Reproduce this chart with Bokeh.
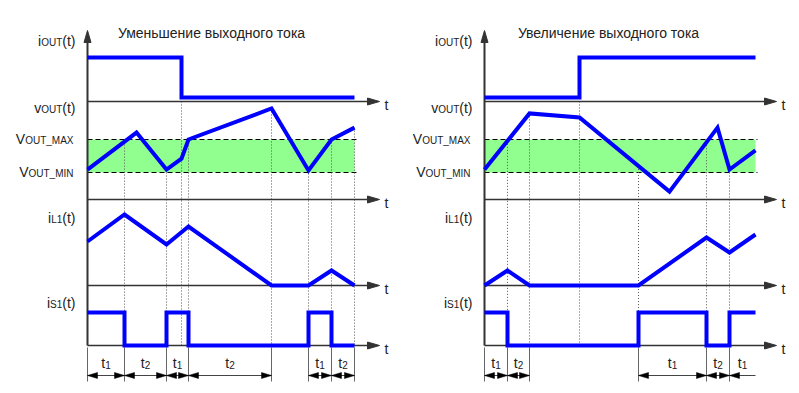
import numpy as np
from bokeh.plotting import figure
from bokeh.models import Range1d
from bokeh.core.properties import value
from bokeh.embed import file_html
from bokeh.resources import INLINE

# ---------------- data ----------------
# time in arbitrary units, levels normalised per signal
L_title = "Уменьшение выходного тока"
L_step_t = 9.4
L_iout = [1, 0]                      # load current before / after step
L_bounds = [0, 3.7, 7.9, 10.1, 18.4, 22.1, 24.4, 26.7]
L_phase = ["1", "2", "1", "2", "", "1", "2"]
L_vout_t = [0, 4.9, 7.9, 9.4, 10.1, 18.4, 22.1, 24.4, 26.7]
L_vout = [0.09, 1.21, 0.09, 0.42, 1.0, 1.94, 0.06, 1.0, 1.36]   # 0 = VOUT_MIN, 1 = VOUT_MAX
L_il1_t = [0, 3.7, 7.9, 10.1, 18.4, 22.1, 24.4, 26.7]
L_il1 = [4.4, 7.1, 4.1, 5.9, 0, 0, 1.5, 0]
L_open_end = False

R_title = "Увеличение выходного тока"
R_step_t = 9.5
R_iout = [0, 1]
R_bounds = [0, 2.3, 4.5, 15.4, 22.2, 24.5, 27.1]
R_phase = ["1", "2", "", "1", "2", "1"]
R_vout_t = [0, 4.5, 9.5, 18.5, 23.3, 24.5, 27.1]
R_vout = [0.09, 1.79, 1.67, -0.58, 1.36, 0.09, 0.67]
R_il1_t = [0, 2.3, 4.5, 15.4, 22.2, 24.5, 27.1]
R_il1 = [0, 1.5, 0, 0, 4.8, 3.3, 5.1]
R_open_end = True

SIG_LABELS = [("i", "OUT", "(t)"), ("v", "OUT", "(t)"), ("V", "OUT_MAX", ""),
              ("V", "OUT_MIN", ""), ("i", "L1", "(t)"), ("i", "S1", "(t)")]

# ---------------- layout ----------------
BLUE = "#0000ff"
GREEN = "#90ff90"
AXC = "#333333"
FONT = "Liberation Sans"
PX_T = 10.0
AX_Y = [101, 199, 285, 345]
V_TOP = 30
Y_IOUT0, IOUT_SPAN = 97, 40
Y_VMIN, Y_VMAX = 172, 139
S1_SPAN = 33
IL1_PX = 10
DIM_Y = 375

panels = [
    dict(x0=87, title=L_title, step=L_step_t, iout=L_iout, bounds=L_bounds, phase=L_phase,
         vt=L_vout_t, v=L_vout, it=L_il1_t, i=L_il1, open_end=L_open_end),
    dict(x0=484, title=R_title, step=R_step_t, iout=R_iout, bounds=R_bounds, phase=R_phase,
         vt=R_vout_t, v=R_vout, it=R_il1_t, i=R_il1, open_end=R_open_end),
]

p = figure(width=799, height=393, x_range=Range1d(0, 799), y_range=Range1d(393, 0),
           x_axis_type=None, y_axis_type=None, toolbar_location=None,
           output_backend="svg", min_border=0)
p.outline_line_color = None
p.background_fill_color = "white"
p.border_fill_color = "white"

W = {'i': 222, 'v': 500, 'V': 667, '(': 333, ')': 333, 't': 278, 'O': 778, 'U': 722,
     'T': 611, '_': 556, 'M': 833, 'A': 667, 'X': 667, 'I': 278, 'N': 722, 'L': 556,
     '1': 556, '2': 556, 'S': 667}
MAIN_FS, SUB_FS = 14, 10


def tw(s, fs):
    return sum(W.get(c, 556) for c in s) * fs / 1000.0


main_txt = dict(x=[], y=[], text=[])
sub_txt = dict(x=[], y=[], text=[])


def put(pieces, x, base):
    for s, is_sub in pieces:
        if not s:
            continue
        d = sub_txt if is_sub else main_txt
        d["x"].append(x)
        d["y"].append(base + (2 if is_sub else 0))
        d["text"].append(s)
        x += tw(s, SUB_FS if is_sub else MAIN_FS)


def pieces_width(pieces):
    return sum(tw(s, SUB_FS if sub else MAIN_FS) for s, sub in pieces)


label_base = [40, 107, 138, 171, 217, 302]
label_gap = [12, 12, 14, 14, 12, 12]

for P in panels:
    x0 = P["x0"]
    b = np.array(P["bounds"])
    tend = b[-1]
    X = lambda t: x0 + PX_T * np.asarray(t, dtype=float)
    xe = float(X(tend))
    ax_end = x0 + 292

    # band for VOUT window
    p.quad(left=[x0], right=[xe], top=[Y_VMAX], bottom=[Y_VMIN], fill_color=GREEN, line_color=None)
    p.segment(x0=[x0, x0], x1=[xe + 2, xe + 2], y0=[Y_VMAX, Y_VMIN], y1=[Y_VMAX, Y_VMIN],
              line_color="black", line_width=1, line_dash="5 3")

    # dotted guides
    gt = list(b[1:-1]) + ([] if P["open_end"] else [b[-1]])
    vy = Y_VMIN - (Y_VMIN - Y_VMAX) * np.interp(gt, P["vt"], P["v"])
    gx = list(X(gt)) + [float(X(P["step"]))]
    gy0 = list(vy) + [AX_Y[0]]
    p.segment(x0=gx, x1=gx, y0=gy0, y1=[AX_Y[3]] * len(gx), line_color="#555555",
              line_width=1, line_dash="1 2")

    # extension lines for dimensions
    ext = list(b) if not P["open_end"] else list(b[:-1])
    ex = list(X(ext))
    p.segment(x0=ex, x1=ex, y0=[AX_Y[3] + 2] * len(ex), y1=[DIM_Y + 6] * len(ex),
              line_color="#666666", line_width=1)

    # axes
    p.segment(x0=[x0], x1=[x0], y0=[AX_Y[3]], y1=[V_TOP + 10], line_color=AXC, line_width=2)
    p.patches(xs=[[x0, x0 - 3.5, x0 + 3.5]], ys=[[V_TOP, V_TOP + 12, V_TOP + 12]],
              fill_color=AXC, line_color=AXC)
    n = len(AX_Y)
    p.segment(x0=[x0] * n, x1=[ax_end - 8] * n, y0=AX_Y, y1=AX_Y, line_color=AXC, line_width=1.6)
    p.patches(xs=[[ax_end, ax_end - 12, ax_end - 12] for _ in AX_Y],
              ys=[[y, y - 3.5, y + 3.5] for y in AX_Y], fill_color=AXC, line_color=AXC)
    for y in AX_Y:
        put([("t", False)], ax_end + 5, y + 3)

    # signals
    st = float(X(P["step"]))
    iy = [Y_IOUT0 - IOUT_SPAN * P["iout"][0]] * 2 + [Y_IOUT0 - IOUT_SPAN * P["iout"][1]] * 2
    sig_kw = dict(line_color=BLUE, line_width=4, line_join="miter")
    p.line([x0, st, st, xe], iy, **sig_kw)
    p.line(X(P["vt"]), Y_VMIN - (Y_VMIN - Y_VMAX) * np.array(P["v"]), **sig_kw)
    p.line(X(P["it"]), AX_Y[2] - IL1_PX * np.array(P["i"]), **sig_kw)
    sx, sy = [], []
    for k, ph in enumerate(P["phase"]):
        lvl = AX_Y[3] - (S1_SPAN if ph == "1" else 0)
        sx += [float(X(b[k])), float(X(b[k + 1]))]
        sy += [lvl, lvl]
    p.line(sx, sy, **sig_kw)

    # dimension arrows
    heads_x, heads_y = [], []
    for k, ph in enumerate(P["phase"]):
        if not ph:
            continue
        a, c = float(X(b[k])), float(X(b[k + 1]))
        last_open = P["open_end"] and k == len(P["phase"]) - 1
        p.segment(x0=[a], x1=[c], y0=[DIM_Y], y1=[DIM_Y], line_color="#444444", line_width=1)
        heads_x.append([a, a + 10, a + 10]); heads_y.append([DIM_Y, DIM_Y - 3, DIM_Y + 3])
        if not last_open:
            heads_x.append([c, c - 10, c - 10]); heads_y.append([DIM_Y, DIM_Y - 3, DIM_Y + 3])
        pcs = [("t", False), (ph, True)]
        put(pcs, (a + c) / 2 - pieces_width(pcs) / 2, 362)
    p.patches(xs=heads_x, ys=heads_y, fill_color="black", line_color="black", line_width=0.5)

    # signal labels
    for (m, s, suf), base, gap in zip(SIG_LABELS, label_base, label_gap):
        pcs = [(m, False), (s, True), (suf, False)]
        put(pcs, x0 - gap - pieces_width(pcs), base)

    # title
    p.text(x=[x0 + 124], y=[32], text=[P["title"]], text_align="center",
           text_baseline="alphabetic", text_font=value(FONT), text_font_size=value("14px"),
           text_color="#222222")

p.text(x="x", y="y", text="text", source=main_txt, text_align="left", text_baseline="alphabetic",
       text_font=value(FONT), text_font_size=value(f"{MAIN_FS}px"), text_color="#222222")
p.text(x="x", y="y", text="text", source=sub_txt, text_align="left", text_baseline="alphabetic",
       text_font=value(FONT), text_font_size=value(f"{SUB_FS}px"), text_color="#222222")

open("out.html", "w").write(file_html(p, INLINE))
